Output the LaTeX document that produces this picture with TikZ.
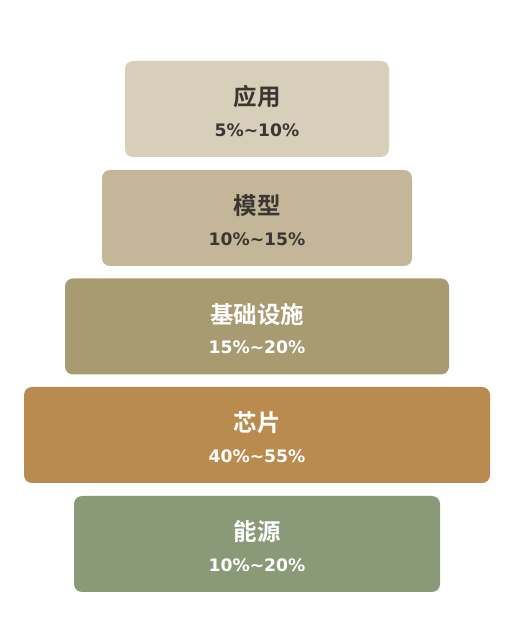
\documentclass[tikz,border=0pt]{standalone}
\usepackage{fontspec}
\newfontfamily\cjk{Noto Sans CJK SC}[BoldFont={* Bold}]
\newfontfamily\numfont{DejaVu Sans}
\definecolor{cA}{HTML}{D8CFBA}
\definecolor{cB}{HTML}{C4B698}
\definecolor{cC}{HTML}{A89B72}
\definecolor{cD}{HTML}{B98B4E}
\definecolor{cE}{HTML}{8A9A79}
\definecolor{dark}{HTML}{3A3631}
\begin{document}
\begin{tikzpicture}[x=1pt,y=1pt,
  layer/.style={rounded corners=8pt, inner sep=0pt, minimum height=96pt},
  ttl/.style={font=\cjk\bfseries\fontsize{23.5}{27}\selectfont, inner sep=0pt},
  val/.style={font=\numfont\bfseries\fontsize{17.2}{20}\selectfont, inner sep=0pt}]
\useasboundingbox (0,0) rectangle (514,636);
\fill[white] (0,0) rectangle (514,636);
% layers
\node[layer, fill=cA, minimum width=264pt] (l1) at (257,527) {};
\node[layer, fill=cB, minimum width=310pt] (l2) at (257,418) {};
\node[layer, fill=cC, minimum width=384pt] (l3) at (257,309.5) {};
\node[layer, fill=cD, minimum width=466pt] (l4) at (257,201) {};
\node[layer, fill=cE, minimum width=366pt] (l5) at (257,92) {};
% texts
\node[ttl, text=dark] (t1) at ([yshift=12pt]l1.center) {应用};
\node[val, text=dark] (v1) at ([yshift=-21pt]l1.center) {5\%\textasciitilde 10\%};
\node[ttl, text=dark] (t2) at ([yshift=12pt]l2.center) {模型};
\node[val, text=dark] (v2) at ([yshift=-21pt]l2.center) {10\%\textasciitilde 15\%};
\node[ttl, text=white] (t3) at ([yshift=12pt]l3.center) {基础设施};
\node[val, text=white] (v3) at ([yshift=-21pt]l3.center) {15\%\textasciitilde 20\%};
\node[ttl, text=white] (t4) at ([yshift=12pt]l4.center) {芯片};
\node[val, text=white] (v4) at ([yshift=-21pt]l4.center) {40\%\textasciitilde 55\%};
\node[ttl, text=white] (t5) at ([yshift=12pt]l5.center) {能源};
\node[val, text=white] (v5) at ([yshift=-21pt]l5.center) {10\%\textasciitilde 20\%};
\end{tikzpicture}
\end{document}
